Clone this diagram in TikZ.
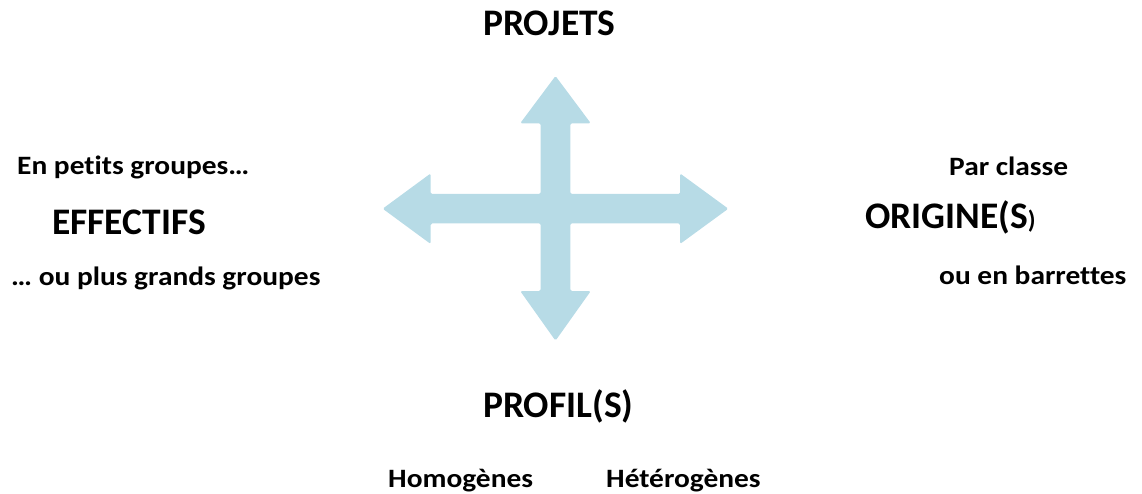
\documentclass[tikz,border=0pt]{standalone}
\usepackage{fontspec}
\setmainfont[Ligatures=NoCommon]{Carlito}
\newfontfamily\smallfont[Ligatures=NoCommon,FakeStretch=1.11]{Carlito}
\definecolor{arrowblue}{HTML}{B7DBE6}
\begin{document}
\begin{tikzpicture}[x=1pt,y=-1pt,
  big/.style={inner sep=0pt,anchor=base west,font=\bfseries\fontsize{37.5}{40}\selectfont},
  small/.style={inner sep=0pt,anchor=base west,font=\smallfont\bfseries\fontsize{26.5}{30}\selectfont}]
\useasboundingbox (0,0) rectangle (1142,494);
% four-way arrow
\fill[arrowblue,rounded corners=1.5pt]
 (555.5,76) -- (590.8,123.3) -- (570.3,123.3) -- (570.3,194) -- (680,194) -- (680,173.4)
 -- (728.3,208.7) -- (680,244) -- (680,223.4) -- (570.3,223.4) -- (570.3,291) -- (590.8,291)
 -- (555.5,340.7) -- (520.2,291) -- (540.7,291) -- (540.7,223.4) -- (430.7,223.4) -- (430.7,244)
 -- (382.7,208.7) -- (430.7,173.4) -- (430.7,194) -- (540.7,194) -- (540.7,123.3) -- (520.2,123.3) -- cycle;
% labels
\node[big] (projets) at (483,36) {PROJETS};
\node[big] (profil) at (483,417) {PROFIL(S)};
\node[big] (effectifs) at (52,235) {EFFECTIFS};
\node[big] (origine) at (865,228.5) {ORIGINE(S{\fontsize{25}{28}\selectfont)}};
\node[small] (petits) at (17,175) {En petits groupes…};
\node[small] (grands) at (11,285) {… ou plus grands groupes};
\node[small] (classe) at (949,176) {Par classe};
\node[small] (barrettes) at (939,284.5) {ou en barrettes};
\node[small] (homo) at (388,487.5) {Homogènes};
\node[small] (hetero) at (606,487.5) {Hétérogènes};
\end{tikzpicture}
\end{document}
